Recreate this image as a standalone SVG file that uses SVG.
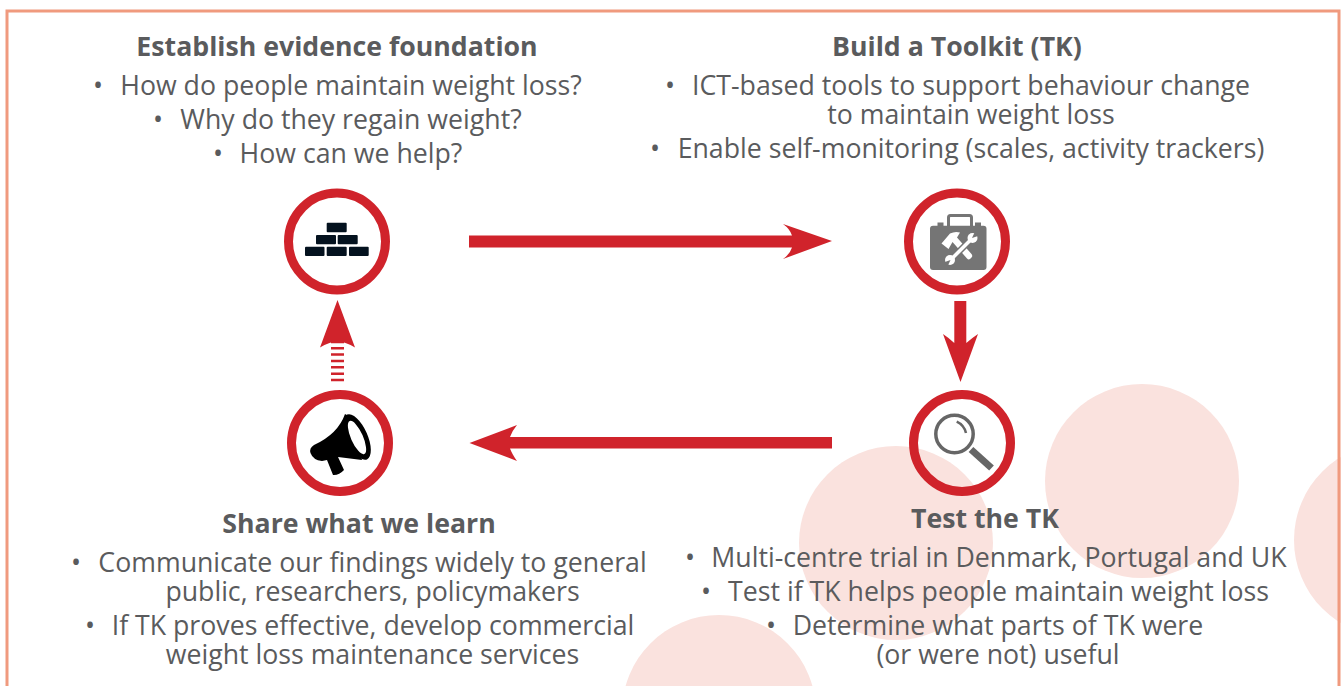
<svg xmlns="http://www.w3.org/2000/svg" width="1341" height="686" viewBox="0 0 1341 686">
<style>
.t{font-family:"Open Sans","Liberation Sans",sans-serif;fill:#5a5b5d;text-anchor:middle;font-size:26.700px}
.h{font-weight:700}
.ring{fill:none;stroke:#d0232b;stroke-width:9}
.blob{fill:#fae2de}
.arrow{fill:#d0232b}
.brick{fill:#04121f}
.tool{fill:#757575}
.white{fill:#fff}
</style>
<rect width="1341" height="686" fill="#fff"/>
<g id="background">
<circle class="blob" cx="1142" cy="481" r="97"/>
<circle class="blob" cx="896" cy="543" r="97"/>
<circle class="blob" cx="719" cy="712" r="97"/>
<circle class="blob" cx="1391" cy="540" r="97"/>
<rect x="7" y="11" width="1332" height="690" fill="none" stroke="#f09a7e" stroke-width="3"/>
</g>
<g id="connectors">
<path class="arrow" d="M469 235.500H792Q790 229 783 224L832 241L783 259Q790 254 792 247.500H469Z"/>
<path class="arrow" d="M954.300 301H966.300V343Q972 338 978 334L960.500 382L943 334Q949 338 954.300 343Z"/>
<path class="arrow" d="M832 437H510Q512 431 517 425L469.500 443L517 461Q512 454 510 448.500H832Z"/>
<path class="arrow" d="M337.500 300L355 347.500Q346 342 337.500 341Q329 342 320 347.500Z"/>
<path d="M331 342H344M331 348.200H344M331 354.500H344M331 361H344M331 367.300H344M331 373.700H344M331 380H344" stroke="#d0232b" stroke-width="2.400" fill="none"/>
</g>
<g id="node-evidence">
<text class="t h" x="337" y="56">Establish evidence foundation</text>
<text class="t" y="94.500"><tspan x="98">•</tspan><tspan x="351">How do people maintain weight loss?</tspan></text>
<text class="t" y="128.500"><tspan x="158">•</tspan><tspan x="351">Why do they regain weight?</tspan></text>
<text class="t" y="162.500"><tspan x="218">•</tspan><tspan x="351">How can we help?</tspan></text>
<circle class="ring" cx="337" cy="241.500" r="48.500"/>
<rect class="brick" x="326.700" y="222.700" width="20" height="9.500" rx="1"/>
<rect class="brick" x="316" y="235" width="20" height="9.300" rx="1"/>
<rect class="brick" x="337.700" y="235" width="20" height="9.300" rx="1"/>
<rect class="brick" x="305" y="246.700" width="19.500" height="9.300" rx="1"/>
<rect class="brick" x="326.700" y="246.700" width="20" height="9.300" rx="1"/>
<rect class="brick" x="349" y="246.700" width="19.700" height="9.300" rx="1"/>
</g>
<g id="node-toolkit">
<text class="t h" x="957" y="56">Build a Toolkit (TK)</text>
<text class="t" y="94.500"><tspan x="670">•</tspan><tspan x="971">ICT-based tools to support behaviour change</tspan></text>
<text class="t" x="971" y="123.500">to maintain weight loss</text>
<text class="t" y="157.500"><tspan x="655">•</tspan><tspan x="971">Enable self-monitoring (scales, activity trackers)</tspan></text>
<circle class="ring" cx="957" cy="241.500" r="48.500"/>
<path d="M948.500 226V217.500Q948.500 215.500 950.500 215.500H969.500Q971.500 215.500 971.500 217.500V226" fill="none" stroke="#757575" stroke-width="3"/>
<rect class="tool" x="937.500" y="222.500" width="6" height="3.500"/>
<rect class="tool" x="975" y="222.500" width="6" height="3.500"/>
<rect class="tool" x="930" y="225.700" width="56.500" height="44.300" rx="3"/>
<path class="white" d="M941.500 243.500L950 233.500Q955 231 960 232.500L957 237.500L971.500 254Q973 256 971.500 257.500L970 259Q968.500 260 967 258.500L952.500 242L948.500 249Z"/>
<path d="M952 258.500L970.500 240" stroke="#757575" stroke-width="6.500" fill="none"/>
<path d="M952 258.500L970.500 240" stroke="#fff" stroke-width="3.500" fill="none"/>
<circle class="white" cx="972.500" cy="238" r="5"/>
<circle class="white" cx="950" cy="260" r="5"/>
<path class="tool" d="M972 238L975 231.500L979.500 235.500Z"/>
<path class="tool" d="M950.500 260L947.500 266.500L943.500 262.500Z"/>
</g>
<g id="node-test">
<circle class="ring" cx="962" cy="443" r="48.500"/>
<circle cx="954.500" cy="434" r="18.700" fill="none" stroke="#666" stroke-width="3.500"/>
<path d="M956.700 421.700Q964 425 966 433" fill="none" stroke="#666" stroke-width="2.500"/>
<path d="M971 449.500L991.500 468" stroke="#666" stroke-width="7" fill="none"/>
<text class="t h" x="985" y="528">Test the TK</text>
<text class="t" y="566.500"><tspan x="690">•</tspan><tspan x="999">Multi-centre trial in Denmark, Portugal and UK</tspan></text>
<text class="t" y="600.500"><tspan x="706">•</tspan><tspan x="998.500">Test if TK helps people maintain weight loss</tspan></text>
<text class="t" y="634.500"><tspan x="771">•</tspan><tspan x="998">Determine what parts of TK were</tspan></text>
<text class="t" x="998" y="663.500">(or were not) useful</text>
</g>
<g id="node-share">
<circle class="ring" cx="340" cy="443" r="48.500"/>
<path d="M345 414Q338 434 314 445Q309 448 310.500 453Q313 460 322 461L327 460L333 475Q339 475.500 344 470L338 457L362 460L350 417Z" fill="#000"/>
<ellipse cx="357" cy="437" rx="10.500" ry="24.500" transform="rotate(-24 357 437)" fill="#000"/>
<ellipse cx="357" cy="437.500" rx="6" ry="18" transform="rotate(-24 357 437.500)" fill="#fff"/>
<text class="t h" x="359" y="533">Share what we learn</text>
<text class="t" y="571.500"><tspan x="76">•</tspan><tspan x="372.500">Communicate our findings widely to general</tspan></text>
<text class="t" x="372.500" y="600.500">public, researchers, policymakers</text>
<text class="t" y="634.500"><tspan x="90">•</tspan><tspan x="373">If TK proves effective, develop commercial</tspan></text>
<text class="t" x="372.500" y="663.500">weight loss maintenance services</text>
</g>
</svg>
